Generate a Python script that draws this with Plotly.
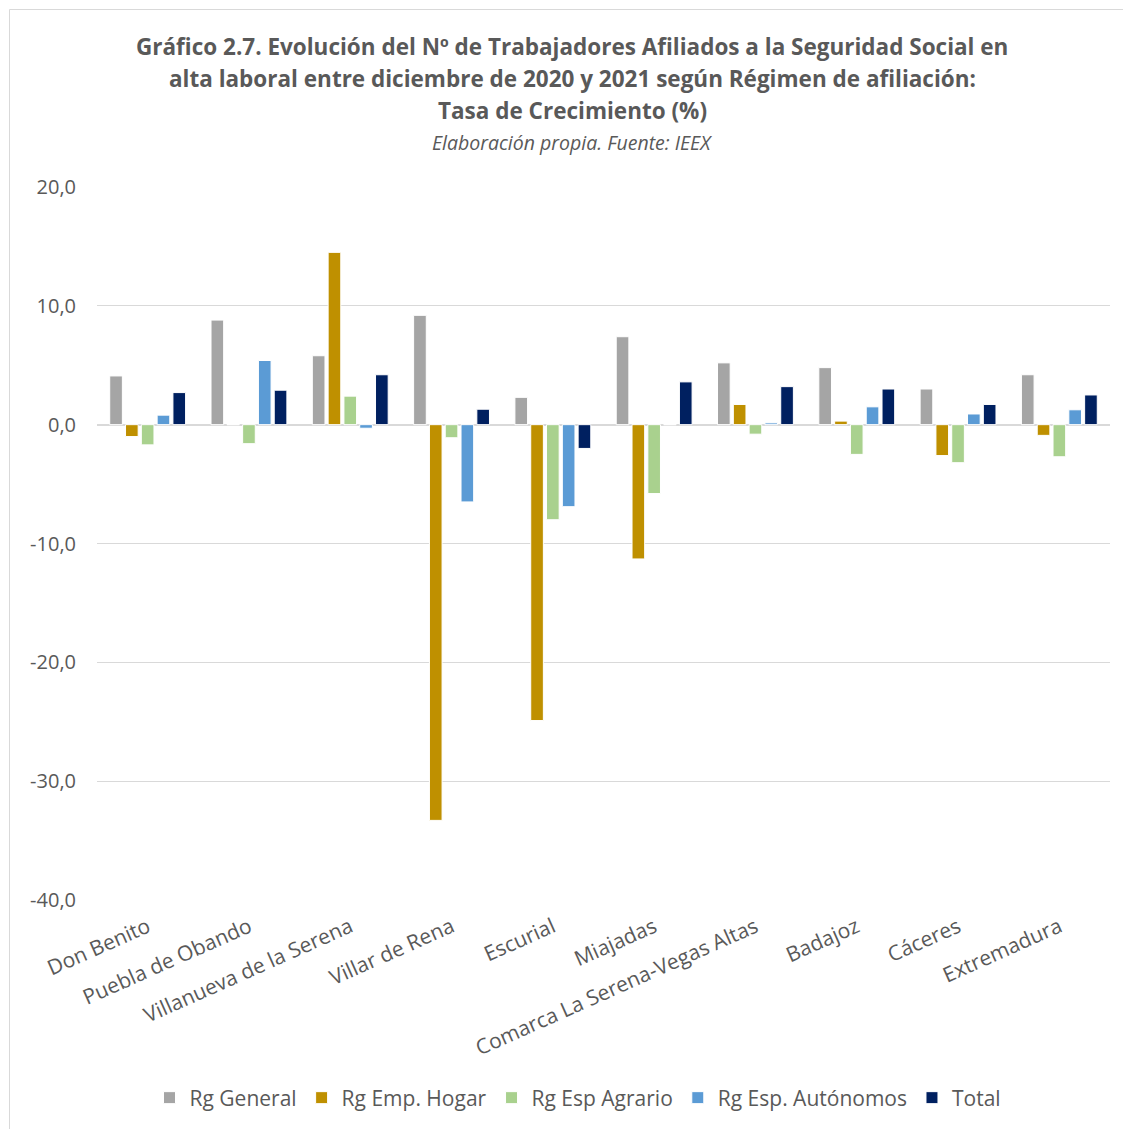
import plotly.graph_objects as go

# datos (tasa de crecimiento, %)
categorias = ['Don Benito', 'Puebla de Obando', 'Villanueva de la Serena', 'Villar de Rena',
              'Escurial', 'Miajadas', 'Comarca La Serena-Vegas Altas', 'Badajoz', 'Cáceres',
              'Extremadura']

rg_general = [4.1, 8.8, 5.8, 9.2, 2.3, 7.4, 5.2, 4.8, 3.0, 4.2]
rg_emp_hogar = [-1.0, 0.0, 14.5, -33.3, -24.9, -11.3, 1.7, 0.3, -2.6, -0.9]
rg_esp_agrario = [-1.7, -1.6, 2.4, -1.1, -8.0, -5.8, -0.8, -2.5, -3.2, -2.7]
rg_esp_autonomos = [0.8, 5.4, -0.3, -6.5, -6.9, 0.0, 0.15, 1.5, 0.9, 1.25]
total = [2.7, 2.9, 4.2, 1.3, -2.0, 3.6, 3.2, 3.0, 1.7, 2.5]

series = [
    ('Rg General', rg_general, '#a5a5a5'),
    ('Rg Emp. Hogar', rg_emp_hogar, '#bf9000'),
    ('Rg Esp Agrario', rg_esp_agrario, '#a9d18e'),
    ('Rg Esp. Autónomos', rg_esp_autonomos, '#5b9bd5'),
    ('Total', total, '#002060'),
]

tick_vals = [-40, -30, -20, -10, 0, 10, 20]
tick_text = ['-40,0', '-30,0', '-20,0', '-10,0', '0,0', '10,0', '20,0']

titulo = ['Gráfico 2.7. Evolución del Nº de Trabajadores Afiliados a la Seguridad Social en',
          'alta laboral entre diciembre de 2020 y 2021 según Régimen de afiliación:',
          'Tasa de Crecimiento (%)']
subtitulo = 'Elaboración propia. Fuente: IEEX'

font_txt = 'Open Sans'
gris = '#595959'

# la página añade 8px de margen al body: se descuentan del tamaño
fig = go.Figure()
for nombre, valores, color in series:
    fig.add_trace(go.Bar(
        name=nombre, x=categorias, y=valores,
        marker=dict(color=color, line=dict(color='white', width=1)),
    ))

fig.update_layout(
    width=1123, height=1121,
    paper_bgcolor='white', plot_bgcolor='white',
    barmode='group', bargap=0.22, bargroupgap=0.2,
    margin=dict(l=89, r=21, t=179, b=229, autoexpand=False),
    font=dict(family=font_txt, color=gris, size=17),
    showlegend=True,
    legend=dict(orientation='h', x=570 / 1123, xanchor='center', xref='container',
                y=31 / 1121, yanchor='middle', yref='container',
                font=dict(size=21, color=gris), traceorder='normal', itemwidth=30),
)

# título en líneas separadas
x_tit = (572 - 97) / 1013
for i, linea in enumerate(titulo):
    fig.add_annotation(text='<b>' + linea + '</b>', xref='paper', yref='paper',
                       x=x_tit, xanchor='center', y=(900 - (47 + 32 * i)) / 713, yanchor='middle',
                       showarrow=False, font=dict(size=22.5, color=gris))
fig.add_annotation(text='<i>' + subtitulo + '</i>', xref='paper', yref='paper',
                   x=x_tit, xanchor='center', y=(900 - 142) / 713, yanchor='middle',
                   showarrow=False, font=dict(size=19.5, color=gris))

fig.update_yaxes(
    range=[-40, 20], tickvals=tick_vals, ticktext=tick_text, automargin=False,
    showgrid=True, gridcolor='#d9d9d9', gridwidth=1,
    zeroline=True, zerolinecolor='#d9d9d9', zerolinewidth=2,
    showline=False, ticks='', tickfont=dict(size=20, color=gris), ticklabelstandoff=20,
)
fig.update_xaxes(
    tickangle=-24, showline=False, ticks='', showgrid=False, automargin=False,
    tickfont=dict(size=21, color=gris), ticklabelstandoff=10,
)

# borde del gráfico
fig.add_shape(type='rect', xref='paper', yref='paper',
              x0=(9.5 - 97) / 1013, x1=1.04, y0=(900 - 1140) / 713, y1=(900 - 9.5) / 713,
              line=dict(color='#d9d9d9', width=1), layer='below')

fig.write_html('out.html')
